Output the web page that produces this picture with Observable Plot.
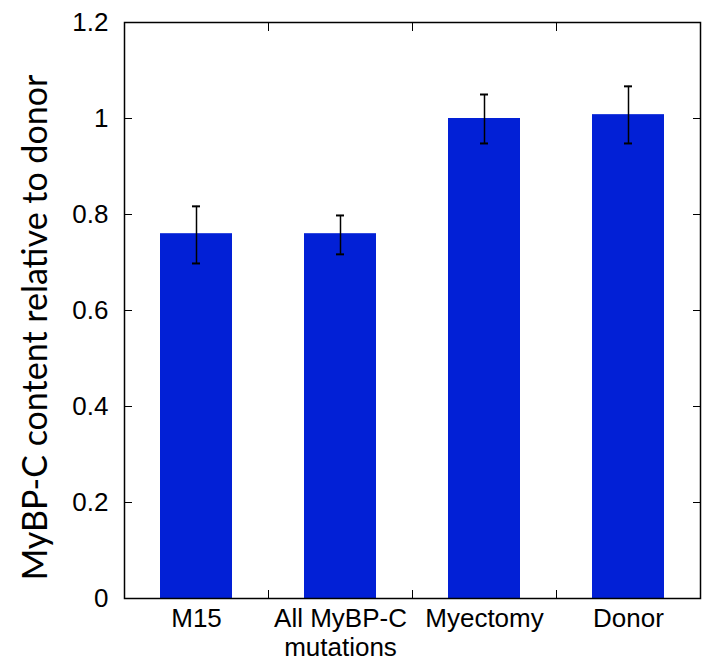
<!DOCTYPE html>
<html>
<head>
<meta charset="utf-8">
<script src="https://cdn.jsdelivr.net/npm/d3@7"></script>
<script src="https://cdn.jsdelivr.net/npm/@observablehq/plot@0.6"></script>
<style>
  html, body { margin: 0; padding: 0; background: #fff; }
  #chart svg { display: block; }
</style>
</head>
<body>
<div id="chart"></div>
<script>
const categories = ["M15", "All MyBP-C\nmutations", "Myectomy", "Donor"];
const values = [0.76, 0.76, 1.0, 1.008];
const errLow = [0.698, 0.717, 0.948, 0.948];
const errHigh = [0.817, 0.798, 1.05, 1.067];
const yTicks = [0, 0.2, 0.4, 0.6, 0.8, 1, 1.2];
const yTickLabels = ["0", "0.2", "0.4", "0.6", "0.8", "1", "1.2"];
const yTitle = "MyBP-C content relative to donor";

const data = categories.map((c, i) => ({cat: c, v: values[i], lo: errLow[i], hi: errHigh[i]}));
const boundaryCats = categories.slice(0, 3);
const step = (702 - 2 - 124) / 4;

const chart = Plot.plot({
  width: 702,
  height: 671,
  marginLeft: 124,
  marginRight: 2,
  marginTop: 22,
  marginBottom: 73,
  style: {fontFamily: "'Liberation Sans', Arial, sans-serif", fontSize: "26px", color: "#000", background: "#fff"},
  x: {domain: categories, paddingInner: 0.5, paddingOuter: 0.25},
  y: {domain: [0, 1.2]},
  marks: [
    Plot.barY(data, {x: "cat", y: "v", fill: "#0220d6"}),
    Plot.ruleX(data, {x: "cat", y1: "lo", y2: "hi", stroke: "#000", strokeWidth: 1.5}),
    Plot.tickY(data, {x: "cat", y: "lo", insetLeft: 32, insetRight: 32, stroke: "#000", strokeWidth: 2}),
    Plot.tickY(data, {x: "cat", y: "hi", insetLeft: 32, insetRight: 32, stroke: "#000", strokeWidth: 2}),
    Plot.frame({stroke: "#000", strokeWidth: 1.5}),
    Plot.axisY(yTicks, {anchor: "left", tickSize: -8, tickPadding: 24, tickFormat: (d, i) => yTickLabels[i], label: null, fontSize: 26}),
    Plot.axisY(yTicks, {anchor: "right", tickSize: -8, text: null, label: null}),
    Plot.axisX({anchor: "bottom", tickSize: 0, tickPadding: 9, label: null, fontSize: 26, lineHeight: 1.08}),
    Plot.axisX(boundaryCats, {anchor: "bottom", tickSize: -8, text: null, label: null, dx: step / 2}),
    Plot.axisX(boundaryCats, {anchor: "top", tickSize: -8, text: null, label: null, dx: step / 2}),
    Plot.text([yTitle], {text: d => d, frameAnchor: "left", textAnchor: "middle", rotate: -90, dx: -88, dy: 17, fontSize: 34, fontFamily: "Lato, 'Open Sans', sans-serif", fill: "#000"})
  ]
});
document.getElementById("chart").appendChild(chart);
</script>
</body>
</html>
